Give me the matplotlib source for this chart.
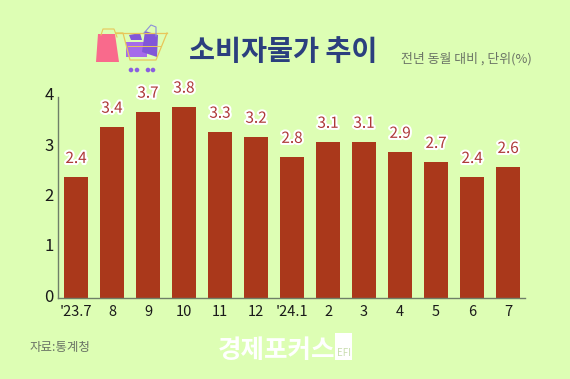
import matplotlib
matplotlib.use('Agg')
import matplotlib.pyplot as plt
import matplotlib.patheffects as pe
from matplotlib.patches import Polygon, Rectangle, Circle
from matplotlib.transforms import ScaledTranslation

plt.rcParams['font.family'] = ['Noto Sans CJK KR', 'DejaVu Sans']

months = ["'23.7", '8', '9', '10', '11', '12', "'24.1", '2', '3', '4', '5', '6', '7']
values = [2.4, 3.4, 3.7, 3.8, 3.3, 3.2, 2.8, 3.1, 3.1, 2.9, 2.7, 2.4, 2.6]
yticks = [0, 1, 2, 3, 4]

W, H = 570, 379
bg = '#DDFEB4'
fig = plt.figure(figsize=(W / 100, H / 100), dpi=100, facecolor=bg)

# chart area, placed in pixels
ax = fig.add_axes([58 / W, 1 - 298 / H, 467 / W, 201 / H], facecolor='none')
x = list(range(len(months)))
ax.bar(x, values, width=0.67, color='#AA381B')
ax.set_xlim(-0.5, 12.47)
ax.set_ylim(0, 4)
ax.set_xticks(x)
ax.set_xticklabels(months, fontsize=10.5, color='#1a1a1a')
ax.set_yticks(yticks)
ax.set_yticklabels(yticks, fontsize=12, color='#1a1a1a')
ax.tick_params(length=0, axis='x', pad=5)
ax.tick_params(length=0, axis='y', pad=3)
up = ScaledTranslation(0, 3 / 100, fig.dpi_scale_trans)
for lab in ax.get_yticklabels():
    lab.set_transform(lab.get_transform() + up)
for s in ['top', 'right']:
    ax.spines[s].set_visible(False)
for s in ['left', 'bottom']:
    ax.spines[s].set_color('#6f7f68')
    ax.spines[s].set_linewidth(1)

for i, v in enumerate(values):
    ax.annotate(f'{v}', (i, v), xytext=(0, 7.5), textcoords='offset points',
                ha='center', va='bottom', fontsize=11, fontweight='medium', color='#AE3838',
                path_effects=[pe.withStroke(linewidth=3, foreground='white')])

# overlay in pixel coordinates for title, notes and the icon
ov = fig.add_axes([0, 0, 1, 1], facecolor='none')
ov.set_xlim(0, W)
ov.set_ylim(H, 0)
ov.axis('off')
ov.text(283, 52, '소비자물가 추이', fontsize=20.4, fontweight='bold', color='#2B3F7E', ha='center', va='center')
ov.text(466, 59, '전년 동월 대비 , 단위(%)', fontsize=9.3, color='#6b7466', ha='center', va='center')
ov.text(60, 348, '자료:통계청', fontsize=9, color='#6b7466', ha='center', va='center')
ov.text(277, 351, '경제포커스', fontsize=18.4, fontweight='bold', color='white', ha='center', va='center')
ov.add_patch(Rectangle((335, 333), 17, 27, color='white', lw=0))
ov.text(343.5, 353, 'EFI', fontsize=7, color='#C9DDB0', ha='center', va='center')

# shopping bag and cart
ov.add_patch(Polygon([(98, 34), (115, 34), (119, 62), (96, 62)], color='#F96A8C', lw=0))
ov.plot([101, 103, 114, 117], [35, 29, 29, 37], color='#E8C65A', lw=0.8)
ov.plot([116, 123, 130, 156, 167], [33, 33, 60, 60, 33], color='#E8C65A', lw=0.9)
ov.plot([116, 167], [33, 33], color='#E8C65A', lw=0.9)
ov.plot([128, 160], [46, 46], color='#E8C65A', lw=0.7)
ov.add_patch(Rectangle((126, 42), 21, 15, color='#A56BEA', lw=0))
ov.add_patch(Polygon([(145, 31), (158, 35), (157, 57), (142, 52)], color='#8157D8', lw=0))
ov.plot([144, 151, 156, 156], [33, 25, 27, 36], color='#8C8FD8', lw=0.8)
ov.add_patch(Polygon([(129, 35), (140, 33), (142, 40), (131, 40)], color='#8157D8', lw=0))
for cx in [131, 137, 148, 153]:
    ov.add_patch(Circle((cx, 70), 2.3, color='#8A5FE0', lw=0))

fig.savefig('out.png', dpi=100, facecolor=bg)
